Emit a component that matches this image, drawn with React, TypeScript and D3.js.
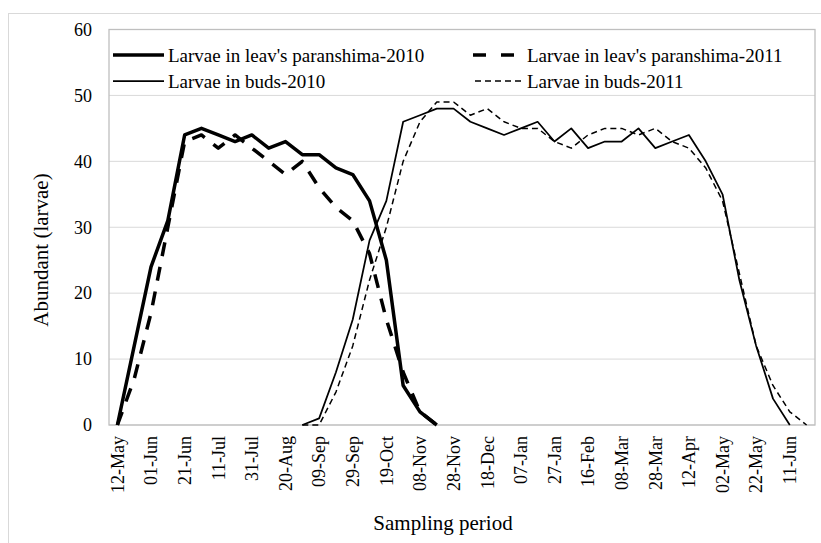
import React, { useEffect, useRef } from 'react'
import * as d3 from 'd3'

// sampling dates, every ~10 days (every second one is printed on the axis)
const dates = [
  '12-May', '22-May', '01-Jun', '11-Jun', '21-Jun', '01-Jul', '11-Jul', '21-Jul', '31-Jul', '10-Aug',
  '20-Aug', '30-Aug', '09-Sep', '19-Sep', '29-Sep', '09-Oct', '19-Oct', '29-Oct', '08-Nov', '18-Nov',
  '28-Nov', '08-Dec', '18-Dec', '28-Dec', '07-Jan', '17-Jan', '27-Jan', '06-Feb', '16-Feb', '26-Feb',
  '08-Mar', '18-Mar', '28-Mar', '05-Apr', '12-Apr', '22-Apr', '02-May', '12-May', '22-May', '01-Jun',
  '11-Jun', '21-Jun'
]

const _ = null

const leaf2010 = [0, 12, 24, 31, 44, 45, 44, 43, 44, 42, 43, 41, 41, 39, 38, 34, 25, 6, 2, 0,
  _, _, _, _, _, _, _, _, _, _, _, _, _, _, _, _, _, _, _, _, _, _]

const leaf2011 = [0, 7, 17, 30, 43, 44, 42, 44, 42, 40, 38, 40, 36, 33, 31, 26, 16, 8, 2, 0,
  _, _, _, _, _, _, _, _, _, _, _, _, _, _, _, _, _, _, _, _, _, _]

const buds2010 = [_, _, _, _, _, _, _, _, _, _, _, 0, 1, 8, 16, 28, 34, 46, 47, 48,
  48, 46, 45, 44, 45, 46, 43, 45, 42, 43, 43, 45, 42, 43, 44, 40, 35, 22, 12, 4, 0, _]

const buds2011 = [_, _, _, _, _, _, _, _, _, _, _, 0, 0, 5, 12, 22, 30, 40, 46, 49,
  49, 47, 48, 46, 45, 45, 43, 42, 44, 45, 45, 44, 45, 43, 42, 39, 34, 23, 12, 6, 2, 0]

const yTicks = [0, 10, 20, 30, 40, 50, 60]

const series = [
  { name: "Larvae in leav's paranshima-2010", values: leaf2010, width: 3.5, dash: null, legendDash: null },
  { name: "Larvae in leav's paranshima-2011", values: leaf2011, width: 3.5, dash: '14,11', legendDash: '13,15' },
  { name: 'Larvae in buds-2010', values: buds2010, width: 1.75, dash: null, legendDash: null },
  { name: 'Larvae in buds-2011', values: buds2011, width: 1.5, dash: '6,4', legendDash: '6,4' }
]

const font = 'Liberation Serif, DejaVu Serif, Noto Serif, Times New Roman, serif'

export default function App() {
  const ref = useRef<SVGSVGElement>(null)

  useEffect(() => {
    const svg = d3.select(ref.current)
    svg.selectAll('*').remove()

    const left = 109, right = 815, top = 29.5, bottom = 425

    const x = d3.scaleBand<number>()
      .domain(dates.map((d, i) => i))
      .range([left, right])
    const cx = (i: number) => (x(i) as number) + x.bandwidth() / 2

    const y = d3.scaleLinear().domain([0, 60]).range([bottom, top])

    // outer chart frame
    svg.append('rect')
      .attr('x', 8.5).attr('y', 13.5)
      .attr('width', 900).attr('height', 600)
      .attr('fill', 'none').attr('stroke', '#d9d9d9')

    // gridlines
    svg.append('g')
      .selectAll('line')
      .data(yTicks)
      .enter()
      .append('line')
      .attr('x1', left).attr('x2', right)
      .attr('y1', d => y(d)).attr('y2', d => y(d))
      .attr('stroke', '#d9d9d9').attr('stroke-width', 1)

    // plot area border
    svg.append('rect')
      .attr('x', left).attr('y', top)
      .attr('width', right - left).attr('height', bottom - top)
      .attr('fill', 'none').attr('stroke', '#bfbfbf').attr('stroke-width', 1.3)

    // y tick labels
    svg.append('g')
      .selectAll('text')
      .data(yTicks)
      .enter()
      .append('text')
      .attr('x', 92).attr('y', d => y(d))
      .attr('dy', '0.35em')
      .attr('text-anchor', 'end')
      .style('font-family', font).style('font-size', '18px')
      .text(d => d)

    // x tick labels (every second date)
    svg.append('g')
      .selectAll('text')
      .data(dates.map((d, i) => i).filter(i => i % 2 === 0))
      .enter()
      .append('text')
      .attr('transform', i => 'translate(' + cx(i) + ',436) rotate(-90)')
      .attr('dy', '0.35em')
      .attr('text-anchor', 'end')
      .style('font-family', font).style('font-size', '18px')
      .text(i => dates[i])

    // lines
    const line = d3.line<number | null>()
      .defined(d => d !== null)
      .x((d, i) => cx(i))
      .y(d => y(d as number))

    series.forEach(s => {
      svg.append('path')
        .datum(s.values)
        .attr('d', line)
        .attr('fill', 'none')
        .attr('stroke', '#000')
        .attr('stroke-width', s.width)
        .attr('stroke-linejoin', 'round')
        .attr('stroke-dasharray', s.dash)
    })

    // legend: 2 x 2
    const legendPos = [
      { lx: 113, tx: 168, ly: 55 },
      { lx: 473, tx: 527, ly: 55 },
      { lx: 113, tx: 168, ly: 81 },
      { lx: 475, tx: 527, ly: 81 }
    ]
    series.forEach((s, i) => {
      const p = legendPos[i]
      svg.append('line')
        .attr('x1', p.lx).attr('x2', i % 2 === 0 ? 164 : 525)
        .attr('y1', p.ly).attr('y2', p.ly)
        .attr('stroke', '#000')
        .attr('stroke-width', s.width)
        .attr('stroke-dasharray', s.legendDash)
      svg.append('text')
        .attr('x', p.tx).attr('y', p.ly)
        .attr('dy', '0.35em')
        .style('font-family', font).style('font-size', '19px')
        .text(s.name)
    })

    // axis titles
    svg.append('text')
      .attr('transform', 'translate(41,250) rotate(-90)')
      .attr('dy', '0.35em')
      .attr('text-anchor', 'middle')
      .style('font-family', font).style('font-size', '21px')
      .text('Abundant (larvae)')

    svg.append('text')
      .attr('x', 443).attr('y', 523)
      .attr('dy', '0.35em')
      .attr('text-anchor', 'middle')
      .style('font-family', font).style('font-size', '21px')
      .text('Sampling period')
  }, [])

  return (
    <svg ref={ref} width={821} height={543}
      style={{ position: 'absolute', left: 0, top: 0, background: '#fff' }} />
  )
}
